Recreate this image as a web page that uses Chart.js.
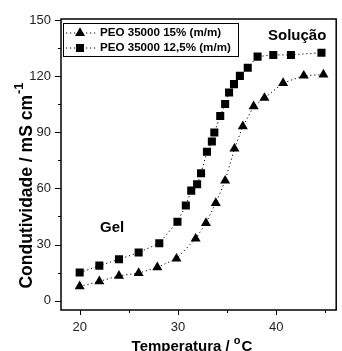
<!DOCTYPE html>
<html>
<head>
<meta charset="utf-8">
<script src="https://cdn.jsdelivr.net/npm/chart.js@4.4.1/dist/chart.umd.min.js"></script>
<style>
  html, body { margin: 0; padding: 0; background: #fff; }
  #chart { display: block; }
</style>
</head>
<body>
<canvas id="chart" width="342" height="351"></canvas>
<script>
// PEO 35000 15% (m/m) - triangles
const tempPeo15 = [20, 22, 24, 26, 27.9, 29.85, 31.8, 32.85, 33.85, 34.8, 35.75, 36.6, 37.7, 38.8, 40.7, 42.8, 44.8];
const condPeo15 = [7.6, 10.3, 13.3, 14.7, 17.8, 22.4, 33.1, 41.4, 52.1, 64.1, 81.2, 93.1, 103.8, 108.3, 116.3, 120.2, 120.8];

// PEO 35000 12,5% (m/m) - squares
const tempPeo125 = [20, 22, 24, 26, 28.1, 29.95, 30.8, 31.35, 31.95, 32.35, 32.95, 33.45, 33.7, 34.3, 34.8, 35.2, 35.7, 36.3, 37.1, 38.1, 39.7, 41.5, 44.6];
const condPeo125 = [15.0, 18.7, 22.1, 25.7, 30.7, 42.2, 50.8, 58.8, 62.2, 68.1, 79.6, 85.0, 89.8, 98.7, 105.1, 111.2, 115.7, 120.1, 124.5, 130.4, 131.3, 131.3, 132.5];

const seriesLabels = ['PEO 35000 15% (m/m)', 'PEO 35000 12,5% (m/m)'];
const xTicks = [20, 25, 30, 35, 40, 45];
const xLabelled = [20, 30, 40];
const yTicks = [0, 15, 30, 45, 60, 75, 90, 105, 120, 135, 150];
const yLabelled = [0, 30, 60, 90, 120, 150];

const FONT = '"Liberation Sans", Arial, sans-serif';

function toPoints(xs, ys) {
    return xs.map((x, i) => ({ x: x, y: ys[i] }));
}

// frame, ticks, legend, titles and the two labels
const decorations = {
    id: 'decorations',
    afterDraw(chart) {
        const ctx = chart.ctx;
        const a = chart.chartArea;
        const sx = chart.scales.x, sy = chart.scales.y;
        ctx.save();
        ctx.strokeStyle = '#000';
        ctx.lineWidth = 1.5;
        ctx.strokeRect(a.left, a.top, a.right - a.left, a.bottom - a.top);

        ctx.lineWidth = 1;
        ctx.beginPath();
        xTicks.forEach(v => {
            const px = Math.round(sx.getPixelForValue(v)) + 0.5;
            const len = xLabelled.includes(v) ? 5 : 3;
            ctx.moveTo(px, a.bottom);
            ctx.lineTo(px, a.bottom + len);
        });
        yTicks.forEach(v => {
            const py = Math.round(sy.getPixelForValue(v)) + 0.5;
            const len = yLabelled.includes(v) ? 6 : 3;
            ctx.moveTo(a.left, py);
            ctx.lineTo(a.left - len, py);
        });
        ctx.stroke();

        // legend
        const lx = 63, ly = 23, lw = 175, lh = 33;
        ctx.fillStyle = '#fff';
        ctx.fillRect(lx, ly, lw, lh);
        ctx.strokeStyle = '#000';
        ctx.lineWidth = 1;
        ctx.strokeRect(lx + 0.5, ly + 0.5, lw, lh);
        chart.data.datasets.forEach((ds, i) => {
            const y = ly + 10 + i * 15;
            ctx.save();
            ctx.setLineDash(ds.borderDash);
            ctx.beginPath();
            ctx.moveTo(lx + 3, y);
            ctx.lineTo(lx + 33, y);
            ctx.stroke();
            ctx.restore();
            ctx.fillStyle = '#000';
            Chart.helpers.drawPoint(ctx, { pointStyle: ds.pointStyle, radius: ds.pointRadius, rotation: 0, borderWidth: 0 }, lx + 17, y);
            ctx.font = 'bold 11.6px ' + FONT;
            ctx.textBaseline = 'middle';
            ctx.textAlign = 'left';
            ctx.fillText(seriesLabels[i], lx + 37, y);
        });

        // labels inside the plot
        ctx.fillStyle = '#000';
        ctx.font = 'bold 15px ' + FONT;
        ctx.textBaseline = 'alphabetic';
        ctx.fillText('Solução', 268, 40);
        ctx.fillText('Gel', 100, 232);

        // x title with superscript
        const xMain = 'Temperatura / ';
        ctx.font = 'bold 15px ' + FONT;
        const w1 = ctx.measureText(xMain).width;
        const w3 = ctx.measureText('C').width;
        ctx.font = 'bold 11px ' + FONT;
        const w2 = ctx.measureText('o').width + 1;
        let x0 = 192 - (w1 + w2 + w3) / 2;
        ctx.font = 'bold 15px ' + FONT;
        ctx.fillText(xMain, x0, 351);
        ctx.font = 'bold 11px ' + FONT;
        ctx.fillText('o', x0 + w1, 344);
        ctx.font = 'bold 15px ' + FONT;
        ctx.fillText('C', x0 + w1 + w2, 351);

        // y title, rotated, with superscript
        const yMain = 'Condutividade / mS cm';
        ctx.translate(32, 186);
        ctx.rotate(-Math.PI / 2);
        ctx.font = 'bold 17.5px ' + FONT;
        const m1 = ctx.measureText(yMain).width;
        ctx.font = 'bold 13px ' + FONT;
        const m2 = ctx.measureText('-1').width;
        const s0 = -(m1 + m2) / 2;
        ctx.font = 'bold 17.5px ' + FONT;
        ctx.fillText(yMain, s0, 0);
        ctx.font = 'bold 13px ' + FONT;
        ctx.fillText('-1', s0 + m1 + 1, -9);
        ctx.restore();
    }
};

new Chart(document.getElementById('chart'), {
    type: 'line',
    data: {
        datasets: [{
            label: seriesLabels[0],
            data: toPoints(tempPeo15, condPeo15),
            borderColor: '#000',
            backgroundColor: '#000',
            borderWidth: 1,
            borderDash: [1.2, 2.8],
            pointStyle: 'triangle',
            pointRadius: 5.8,
            pointBorderWidth: 0,
            pointBackgroundColor: '#000',
            tension: 0
        }, {
            label: seriesLabels[1],
            data: toPoints(tempPeo125, condPeo125),
            borderColor: '#000',
            backgroundColor: '#000',
            borderWidth: 1,
            borderDash: [1.2, 2.8],
            pointStyle: 'rect',
            pointRadius: 5.7,
            pointBorderWidth: 0,
            pointBackgroundColor: '#000',
            tension: 0
        }]
    },
    options: {
        responsive: false,
        animation: false,
        layout: { padding: { top: 19, right: 1, left: 0, bottom: 0 } },
        plugins: { legend: { display: false }, tooltip: { enabled: false } },
        scales: {
            x: {
                type: 'linear',
                min: 18.1,
                max: 46.1,
                grid: { display: false, drawTicks: false },
                border: { display: false },
                afterBuildTicks: s => { s.ticks = xTicks.map(v => ({ value: v })); },
                afterFit: s => { s.height = 41; },
                ticks: {
                    autoSkip: false,
                    maxRotation: 0,
                    padding: 10,
                    color: '#222',
                    font: { family: FONT, size: 13 },
                    callback: v => xLabelled.includes(v) ? String(v) : ''
                }
            },
            y: {
                min: -5,
                max: 150.5,
                grid: { display: false, drawTicks: false },
                border: { display: false },
                afterBuildTicks: s => { s.ticks = yTicks.map(v => ({ value: v })); },
                afterFit: s => { s.width = 61; },
                ticks: {
                    autoSkip: false,
                    padding: 10,
                    color: '#222',
                    font: { family: FONT, size: 13 },
                    callback: v => yLabelled.includes(v) ? String(v) : ''
                }
            }
        }
    },
    plugins: [decorations]
});
</script>
</body>
</html>
